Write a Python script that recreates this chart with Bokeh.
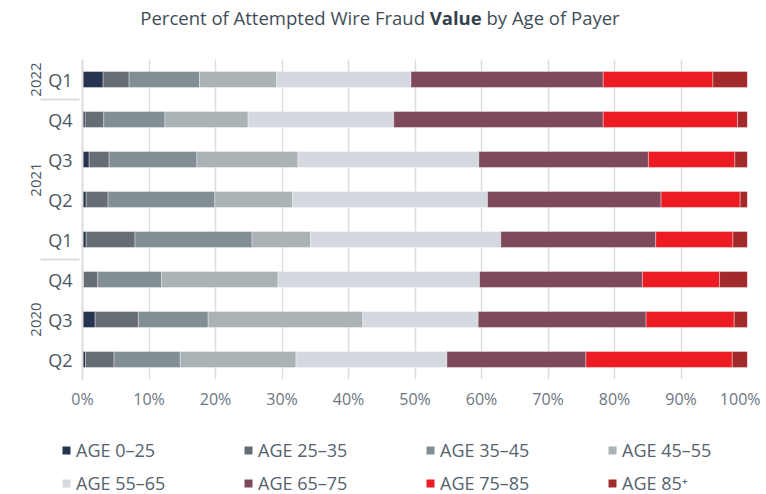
from bokeh.plotting import figure
from bokeh.models import (ColumnDataSource, FactorRange, Div, PrintfTickFormatter,
                          FixedTicker, Legend, LegendItem)
from bokeh.layouts import column
from bokeh.embed import file_html
from bokeh.resources import INLINE

# Rows listed top to bottom as in the chart
years = ["2022", "2021", "2021", "2021", "2021", "2020", "2020", "2020"]
quarters = ["Q1", "Q4", "Q3", "Q2", "Q1", "Q4", "Q3", "Q2"]

series_labels = ["AGE 0–25", "AGE 25–35", "AGE 35–45", "AGE 45–55",
                 "AGE 55–65", "AGE 65–75", "AGE 75–85", "AGE 85⁺"]

age_0_25 = [3.1, 0.4, 1.0, 0.55, 0.55, 0.15, 1.9, 0.45]
age_25_35 = [3.9, 2.8, 3.0, 3.3, 7.35, 2.15, 6.5, 4.3]
age_35_45 = [10.6, 9.2, 13.2, 16.05, 17.6, 9.6, 10.5, 9.95]
age_45_55 = [11.6, 12.5, 15.2, 11.7, 8.8, 17.5, 23.25, 17.4]
age_55_65 = [20.2, 21.9, 27.2, 29.3, 28.6, 30.3, 17.35, 22.7]
age_65_75 = [28.9, 31.5, 25.5, 26.1, 23.3, 24.5, 25.25, 20.9]
age_75_85 = [16.5, 20.2, 13.0, 11.9, 11.6, 11.6, 13.25, 22.0]
age_85_plus = [5.2, 1.5, 1.9, 1.1, 2.2, 4.2, 2.0, 2.3]

x_ticks = [0, 10, 20, 30, 40, 50, 60, 70, 80, 90, 100]

colors = ["#26344f", "#676d74", "#818e94", "#a9b2b5",
          "#d3d9de", "#7e4a5b", "#ed1c24", "#a22a2a"]

keys = ["a0", "a1", "a2", "a3", "a4", "a5", "a6", "a7"]
values = [age_0_25, age_25_35, age_35_45, age_45_55,
          age_55_65, age_65_75, age_75_85, age_85_plus]

factors = list(zip(years, quarters))
data = {"y": factors}
for k, v in zip(keys, values):
    data[k] = v
source = ColumnDataSource(data)

yr = FactorRange(factors=list(reversed(factors)), factor_padding=0,
                 group_padding=0, range_padding=0)

# ---------------- main chart ----------------
p = figure(y_range=yr, x_range=(0, 100), width=760, height=379,
           output_backend="svg", toolbar_location=None,
           min_border_left=82, min_border_right=13,
           min_border_top=19, min_border_bottom=40)
p.outline_line_color = None
p.background_fill_color = "white"

p.hbar_stack(keys, y="y", height=0.4, color=colors, source=source,
             line_color="white", line_width=0.6, line_alpha=0.6)

p.xaxis.ticker = FixedTicker(ticks=x_ticks)
p.xaxis.formatter = PrintfTickFormatter(format="%d%%")
p.xaxis.axis_line_color = None
p.xaxis.major_tick_line_color = None
p.xaxis.minor_tick_line_color = None
p.xaxis.major_label_text_font = "Open Sans"
p.xaxis.major_label_text_font_size = "16px"
p.xaxis.major_label_text_color = "#6b7680"
p.xaxis.major_label_standoff = 2

p.xgrid.ticker = FixedTicker(ticks=x_ticks)
p.xgrid.grid_line_color = "#dcdcdc"
p.xgrid.grid_line_width = 1.5
p.ygrid.grid_line_color = None

p.yaxis.axis_line_color = "#dcdcdc"
p.yaxis.axis_line_width = 2
p.yaxis.major_tick_line_color = None
p.yaxis.minor_tick_line_color = None
p.yaxis.major_label_text_font = "Open Sans"
p.yaxis.major_label_text_font_size = "18px"
p.yaxis.major_label_text_color = "#4a5864"
p.yaxis.major_label_standoff = 4
p.yaxis.group_text_font = "Open Sans"
p.yaxis.group_text_font_size = "15px"
p.yaxis.group_text_font_style = "normal"
p.yaxis.group_text_color = "#4a5864"
p.yaxis.separator_line_color = "#dcdcdc"
p.yaxis.separator_line_width = 2

# ---------------- legend strip ----------------
# same series, drawn with zero height so that only the legend swatches show
p2 = figure(y_range=FactorRange(factors=list(reversed(factors))), x_range=(0, 100),
            width=760, height=75, output_backend="svg", toolbar_location=None,
            min_border=0)
p2.frame_align = False
p2.outline_line_color = None
p2.axis.visible = False
p2.grid.visible = False
leg_renderers = p2.hbar_stack(keys, y="y", height=0, color=colors, source=source,
                              line_color=None)
items = [LegendItem(label=lab, renderers=[r]) for lab, r in zip(series_labels, leg_renderers)]
# legend fills column by column: order items so rows read left to right
order = [0, 4, 1, 5, 2, 6, 3, 7]
lg = Legend(items=[items[i] for i in order], ncols=4, location=(61, -1),
            padding=0, margin=0,
            spacing=9, border_line_color=None, background_fill_alpha=0,
            glyph_width=10, glyph_height=10, label_standoff=5,
            label_width=158, label_height=22,
            label_text_font="Open Sans", label_text_font_size="18px",
            label_text_color="#55626d")
p2.add_layout(lg, "center")

title = Div(
    text=("<div style=\"width:760px;text-align:center;font-family:'Open Sans';"
          "font-size:18.5px;line-height:26px;padding-top:5px;color:#3f4d58;\">"
          "Percent of Attempted Wire Fraud <b style=\"font-weight:700;color:#33424d\">Value</b> by Age of Payer"
          "</div>"),
    width=760, height=40, margin=0)

layout = column(title, p, p2, margin=0, spacing=0)

open("out.html", "w").write(file_html(layout, INLINE))
